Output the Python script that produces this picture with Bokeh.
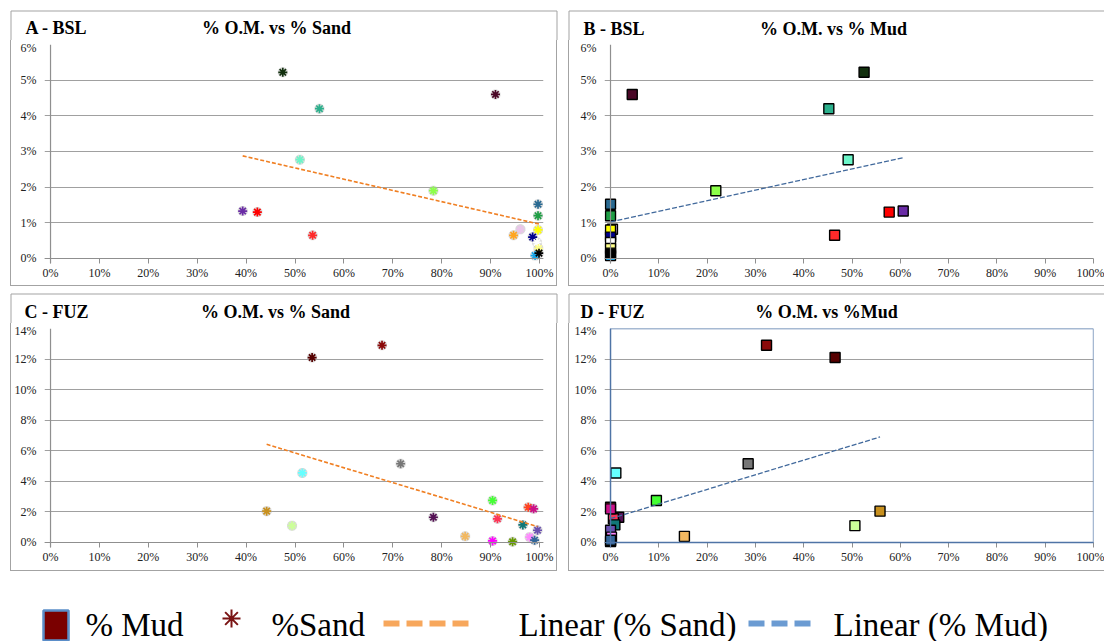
import numpy as np
from bokeh.plotting import figure
from bokeh.models import Range1d, FixedTicker, PrintfTickFormatter, BoxAnnotation, Span
from bokeh.layouts import column, row
from bokeh.embed import file_html
from bokeh.resources import INLINE
from bokeh.core.properties import value

# ---------------- data ----------------
x_ticks = [0, 10, 20, 30, 40, 50, 60, 70, 80, 90, 100]
bsl_y_ticks = [0, 1, 2, 3, 4, 5, 6]
fuz_y_ticks = [0, 2, 4, 6, 8, 10, 12, 14]

# BSL samples (% sand, % mud, % organic matter)
bsl_sand = [47.5, 91.0, 55.0, 51.0, 78.3, 39.3, 42.3, 53.6, 99.7, 99.7, 96.1, 94.7, 99.7, 98.6, 99.5, 99.8, 99.1, 99.9]
bsl_mud = [52.5, 4.5, 45.2, 49.2, 21.8, 60.6, 57.7, 46.4, 0.0, 0.0, 0.4, 0.0, 0.0, 0.0, 0.0, 0.0, 0.0, 0.0]
bsl_om = [5.22, 4.60, 4.20, 2.77, 1.90, 1.33, 1.30, 0.65, 1.52, 1.20, 0.82, 0.65, 0.80, 0.60, 0.45, 0.28, 0.08, 0.15]
bsl_colors = ["#12300e", "#4a0726", "#2bb08c", "#6cf5c8", "#8cff4a", "#6a2ca6", "#ff0000", "#ff2a2a",
              "#2a6a92", "#1f9e45", "#eac4ea", "#ffa51f", "#ffff00", "#00008c", "#ffffff", "#ffff8a",
              "#18a6e8", "#000000"]

# FUZ samples
fuz_sand = [53.5, 67.8, 71.6, 51.5, 44.2, 49.4, 78.3, 90.4, 91.4, 97.7, 98.8, 96.6, 99.6, 84.8, 90.4, 94.5, 98.0, 99.0]
fuz_mud = [46.5, 32.3, 28.5, 1.1, 55.8, 50.6, 1.7, 9.5, 0.6, 0.0, 0.0, 0.9, 0.0, 15.3, 0.0, 0.0, 0.2, 0.0]
fuz_om = [12.1, 12.9, 5.15, 4.55, 2.05, 1.10, 1.65, 2.75, 1.55, 2.30, 2.20, 1.15, 0.80, 0.40, 0.10, 0.05, 0.35, 0.15]
fuz_colors = ["#560000", "#8b0a0a", "#777777", "#66ffff", "#c8901e", "#ccff99", "#551155", "#44ff33",
              "#ff3355", "#ff4422", "#cc1188", "#117777", "#6a4fb0", "#f2b860", "#ff00ff", "#669900",
              "#ff88ff", "#336699"]

panel_tags = ["A - BSL", "B - BSL", "C - FUZ", "D - FUZ"]
panel_titles = ["% O.M. vs % Sand", "% O.M. vs % Mud", "% O.M. vs % Sand", "% O.M. vs %Mud"]
legend_labels = ["% Mud", "%Sand", "Linear (% Sand)", "Linear (% Mud)"]

SERIF = "Liberation Serif"
ORANGE = "#f07f22"
BLUE = "#41699c"
AXIS_GREY = "#8f8f8f"
BOX_GREY = "#a3a3a3"
BORDER = "1px solid " + BOX_GREY
PADL = 6   # px of frame left of the 0% line (markers at 0 stay whole)
PADB = 5   # px of frame below the 0% line


def strip(y_top, y_bottom, box_top, boxes, heads):
    """Full-width heading strip, drawn in window-pixel coordinates.
    boxes: list of (left, right, has_right_edge); heads: list of (tag, title, tag_xy, title_xy)."""
    f = figure(width=1104, height=y_bottom - y_top, x_range=Range1d(0, 1104), y_range=Range1d(y_bottom, y_top),
               output_backend="svg", toolbar_location=None, x_axis_type=None, y_axis_type=None,
               min_border=0, margin=(0, 0, 0, 0))
    f.grid.visible = False
    f.outline_line_color = None
    f.background_fill_color = "white"
    f.border_fill_color = "white"
    xs, ys = [], []
    for left, right, has_right in boxes:
        xs.append([left + 0.5, right - 0.5]); ys.append([box_top + 0.5, box_top + 0.5])
        xs.append([left + 0.5, left + 0.5]); ys.append([box_top + 0.5, y_bottom])
        if has_right:
            xs.append([right - 0.5, right - 0.5]); ys.append([box_top + 0.5, y_bottom])
    f.multi_line(xs, ys, line_color=BOX_GREY, line_width=1)
    common = dict(text_font=value(SERIF), text_font_style="bold", text_font_size=value("18px"),
                  text_color="black", text_baseline="middle")
    for tag, title, tag_xy, title_xy in heads:
        f.text(x=[tag_xy[0]], y=[tag_xy[1]], text=[tag], text_align="left", **common)
        f.text(x=[title_xy[0]], y=[title_xy[1]], text=[title], text_align="center", **common)
    return f


def plot_part(left, top, width, height, right_border, margin, ymax, yticks, axis_px, pad_right,
              outline=None):
    x0, x100, ytop, y0 = axis_px
    bl, br = 1, (1 if right_border else 0)
    styles = {"border-bottom": BORDER, "border-left": BORDER}
    if right_border:
        styles["border-right"] = BORDER
    cl, ct = left + bl, top
    cw, ch = width - bl - br, height - 1
    fl, fr, fb = x0 - PADL, x100 + pad_right, y0 + PADB
    ppx = (x100 - x0) / 100.0
    ppy = (y0 - ytop) / ymax
    p = figure(width=width, height=height,
               x_range=Range1d(-PADL / ppx, 100 + pad_right / ppx),
               y_range=Range1d(-PADB / ppy, ymax),
               output_backend="svg", toolbar_location=None,
               min_border_left=fl - cl, min_border_right=cl + cw - fr,
               min_border_top=ytop - ct, min_border_bottom=ct + ch - fb,
               margin=margin, styles=styles)
    p.xaxis.ticker = FixedTicker(ticks=x_ticks)
    p.yaxis.ticker = FixedTicker(ticks=yticks)
    p.xaxis.formatter = PrintfTickFormatter(format="%d%%")
    p.yaxis.formatter = PrintfTickFormatter(format="%d%%")
    p.xgrid.visible = False
    p.ygrid.grid_line_color = "#a0a0a0"
    p.ygrid.grid_line_width = 1.2
    p.axis.minor_tick_line_color = None
    p.axis.axis_line_color = None
    p.axis.major_label_text_font = SERIF
    p.axis.major_label_text_font_size = "12px"
    p.axis.major_label_text_color = "#222222"
    p.yaxis.major_tick_line_color = None
    p.yaxis.major_label_standoff = 2
    p.xaxis.major_tick_line_color = AXIS_GREY
    p.xaxis.major_tick_in = PADB
    p.xaxis.major_tick_out = 0
    p.xaxis.major_label_standoff = 2
    p.outline_line_color = None
    p.background_fill_color = "white"
    p.border_fill_color = "white"
    p.add_layout(Span(location=0, dimension="height", line_color=outline or AXIS_GREY, line_width=1.2))
    p.add_layout(Span(location=0, dimension="width", line_color=outline or AXIS_GREY, line_width=1.2))
    if outline:
        p.add_layout(BoxAnnotation(left=0, right=100, bottom=0, top=ymax, fill_color=None,
                                   line_color=outline, line_width=1.3, line_alpha=1.0))
    return p


def add_sand(p, sand, om, colors):
    p.scatter(sand, om, marker="asterisk", size=10, line_color="#b5b5b5", line_width=3.5, line_alpha=0.5)
    p.scatter(sand, om, marker="asterisk", size=9, line_color=colors, line_width=1.7)
    k, b = np.polyfit(sand, om, 1)
    xs = np.array([min(sand), max(sand)])
    p.line(xs, k * xs + b, line_color=ORANGE, line_width=1.6, line_dash="4 2")


def add_mud(p, mud, om, colors):
    p.scatter(mud, om, marker="square", size=10, fill_color=colors, line_color="black", line_width=1.4)
    k, b = np.polyfit(mud, om, 1)
    xs = np.array([min(mud), max(mud)])
    p.line(xs, k * xs + b, line_color=BLUE, line_width=1.3, line_dash="5 2")


boxes = [(10, 557, True), (568, 1104, False)]

top_strip = strip(0, 40, 10, boxes,
                  [(panel_tags[0], panel_titles[0], (25, 27), (276, 27)),
                   (panel_tags[1], panel_titles[1], (583, 28), (833, 28))])
pA = plot_part(10, 40, 547, 246, True, (0, 0, 0, 10), 6, bsl_y_ticks, (50, 537, 44, 257), 4)
add_sand(pA, bsl_sand, bsl_om, bsl_colors)
pB = plot_part(568, 40, 536, 246, False, (0, 0, 0, 11), 6, bsl_y_ticks, (610, 1092, 44, 257), 0)
add_mud(pB, bsl_mud, bsl_om, bsl_colors)

mid_strip = strip(286, 323, 293, boxes,
                  [(panel_tags[2], panel_titles[2], (24, 311), (275, 311)),
                   (panel_tags[3], panel_titles[3], (580, 311), (826, 311))])
pC = plot_part(10, 323, 547, 248, True, (0, 0, 0, 10), 14, fuz_y_ticks, (50, 537, 328, 541), 4)
add_sand(pC, fuz_sand, fuz_om, fuz_colors)
pD = plot_part(568, 323, 536, 248, False, (0, 0, 0, 11), 14, fuz_y_ticks, (610, 1092, 328, 541), 0,
               outline="#4f74a6")
add_mud(pD, fuz_mud, fuz_om, fuz_colors)

# ---------------- legend strip ----------------
leg = figure(width=1104, height=70, x_range=Range1d(0, 1104), y_range=Range1d(70, 0),
             output_backend="svg", toolbar_location=None, x_axis_type=None, y_axis_type=None,
             min_border=0, margin=(0, 0, 0, 0))
leg.grid.visible = False
leg.outline_line_color = None
leg.background_fill_color = "white"
leg.border_fill_color = "white"

leg.rect(x=[57], y=[57], width=[25], height=[30], fill_color="#cfcfcf", line_color=None, alpha=0.6)
leg.rect(x=[55.5], y=[54], width=[25], height=[30], fill_color="#7a0000", line_color="#5b8ec9", line_width=2.5)
leg.scatter(x=[231], y=[47], marker="asterisk", size=18, line_color="#7a1414", line_width=2)
leg.line(x=[383, 470], y=[52, 52], line_color="#f7a75c", line_width=6, line_dash="16 7")
leg.line(x=[748, 816], y=[52, 52], line_color="#6b9bd2", line_width=6, line_dash="16 7")
leg.text(x=[85, 271, 518, 833], y=[53, 53, 53, 53], text=legend_labels,
         text_font=value(SERIF), text_font_size=value("33px"), text_baseline="middle",
         text_align="left", text_color="black")

layout = column(top_strip, row(pA, pB), mid_strip, row(pC, pD), leg)

open("out.html", "w").write(file_html(layout, INLINE))
